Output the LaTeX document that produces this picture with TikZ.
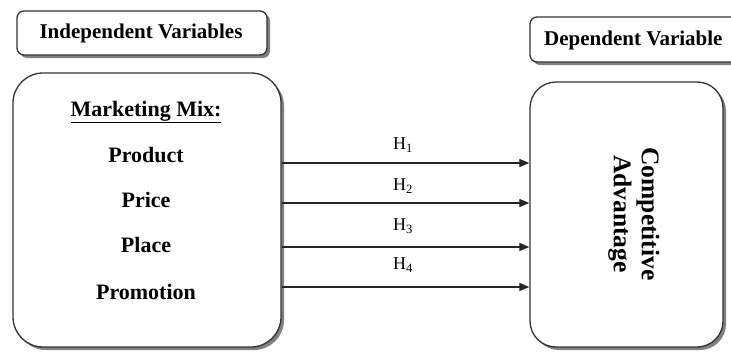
\documentclass[tikz,border=0pt]{standalone}
\usepackage{fontspec}
\setmainfont{Liberation Serif}
\usetikzlibrary{arrows.meta,shadows}
\begin{document}
\begin{tikzpicture}[x=1pt,y=-1pt,
  boxbase/.style={draw=black!80, line width=1.3pt, fill=white, inner sep=0pt,
    drop shadow={shadow xshift=3pt, shadow yshift=-3pt, fill=black!50, opacity=1}},
  headbox/.style={boxbase, rounded corners=7pt},
  headtxt/.style={font=\fontsize{21}{25}\selectfont\bfseries, inner sep=0pt},
  bigbox/.style={boxbase, rounded corners=30pt},
  itemtxt/.style={font=\fontsize{22}{26}\selectfont\bfseries, inner sep=0pt},
  hyp/.style={-{Triangle[length=10pt,width=8pt]}, line width=1.2pt, draw=black!85},
  hlab/.style={font=\fontsize{18}{21}\selectfont, inner sep=0pt}]
\useasboundingbox (0,0) rectangle (731,351);
\clip (0,0) rectangle (731,351);
% header boxes
\node[headbox, minimum width=250pt, minimum height=44pt] (ih) at (142,33) {};
\node[headbox, minimum width=210pt, minimum height=45pt] (dh) at (635,39.5) {};
\node[headtxt] (iht) at (141,33) {Independent Variables};
\node[headtxt, anchor=west] (dht) at (544,40) {Dependent Variable};
% main boxes
\node[bigbox, minimum width=268pt, minimum height=274pt] (mm) at (147,210) {};
\node[bigbox, rounded corners=26pt, minimum width=193pt, minimum height=265pt] (ca) at (626.5,214.5) {};
% texts in marketing mix
\node[itemtxt] (mmt) at (146,112) {\underline{Marketing Mix:}};
\node[itemtxt] (p1) at (146,155) {Product};
\node[itemtxt] (p2) at (146,200) {Price};
\node[itemtxt] (p3) at (146,245) {Place};
\node[itemtxt] (p4) at (146,292) {Promotion};
% competitive advantage
\node[rotate=-90, align=center, inner sep=0pt, font=\fontsize{25.5}{28}\selectfont\bfseries] (cat) at (634,214) {Competitive\\Advantage};
% arrows
\coordinate (y1) at (0,163);
\coordinate (y2) at (0,203);
\coordinate (y3) at (0,247);
\coordinate (y4) at (0,287);
\draw[hyp] (mm.east |- y1) -- (ca.west |- y1);
\draw[hyp] (mm.east |- y2) -- (ca.west |- y2);
\draw[hyp] (mm.east |- y3) -- (ca.west |- y3);
\draw[hyp] (mm.east |- y4) -- (ca.west |- y4);
\node[hlab] (h1) at (403,145) {H\textsubscript{1}};
\node[hlab] (h2) at (403,186) {H\textsubscript{2}};
\node[hlab] (h3) at (403,226) {H\textsubscript{3}};
\node[hlab] (h4) at (403,265) {H\textsubscript{4}};
\end{tikzpicture}
\end{document}
